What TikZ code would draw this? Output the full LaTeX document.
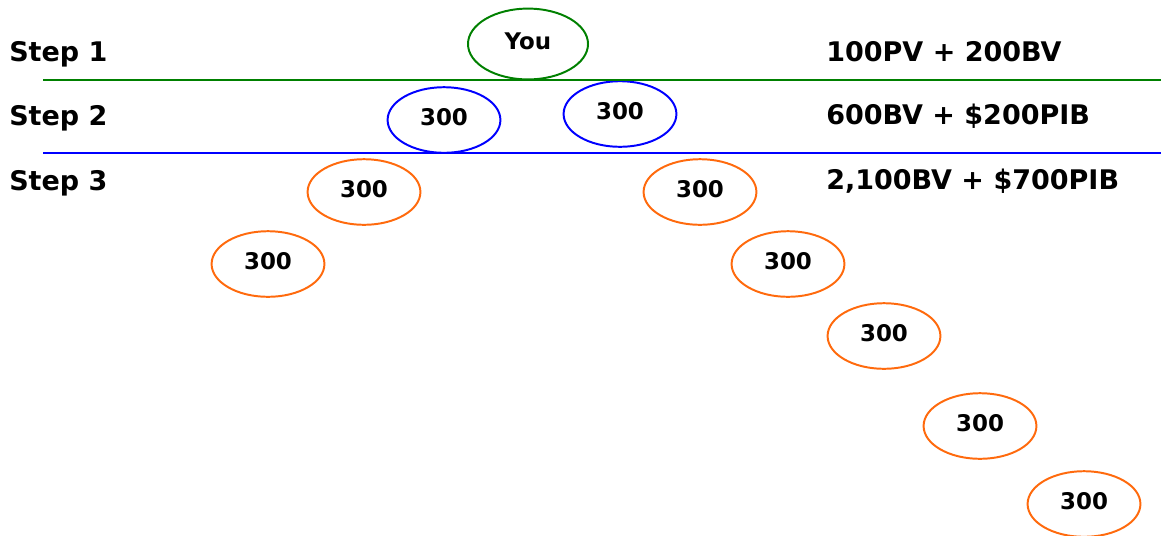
\documentclass[tikz,border=0pt]{standalone}
\usepackage{fontspec}
\setmainfont{DejaVu Sans}
\usepackage{xcolor}
\definecolor{stepgreen}{HTML}{008000}
\definecolor{stepblue}{HTML}{0000FF}
\definecolor{steporange}{HTML}{FF6A0D}
\usetikzlibrary{shapes.geometric}

\begin{document}
\begin{tikzpicture}[
    x=0.025cm, y=-0.025cm,
    member/.style={ellipse, draw, line width=1.4pt, inner sep=0pt, text depth=4pt,
                   minimum width=2.82cm, minimum height=1.64cm,
                   font=\fontsize{16.3}{19}\selectfont\bfseries},
    rule/.style={line width=1.5pt},
    lbl/.style={anchor=base west, inner sep=0pt,
                font=\fontsize{19.2}{22}\selectfont\bfseries},
  ]
  \useasboundingbox (0,0) rectangle (1161,535);

  % top of the tree
  \node[member, draw=stepgreen, minimum width=3cm, minimum height=1.77cm] (you) at (528,44) {You};

  % step 2 members
  \node[member, draw=stepblue] (lvltwoa) at (444,120) {300};
  \node[member, draw=stepblue] (lvltwob) at (620,114) {300};

  % step 3 members, two legs
  \foreach \n/\x/\y in {la/364/192, lb/268/264, ra/700/192, rb/788/264,
                        rc/884/336, rd/980/426, re/1084/504} {
    \node[member, draw=steporange] (lvl\n) at (\x,\y) {300};
  }

  % dividers between the steps
  \coordinate (gstart) at (43,80);
  \coordinate (gend) at (1161,80);
  \coordinate (bstart) at (43,153);
  \coordinate (bend) at (1161,153);
  \draw[rule, stepgreen] (gstart) -- (gend);
  \draw[rule, stepblue] (bstart) -- (bend);

  % step names
  \node[lbl] (stepone) at (9,61) {Step 1};
  \node[lbl] (steptwo) at (9,125) {Step 2};
  \node[lbl] (stepthree) at (9,190) {Step 3};

  % volume per step
  \node[lbl] (volone) at (826,61) {100PV + 200BV};
  \node[lbl] (voltwo) at (826,124.5) {600BV + \$200PIB};
  \node[lbl] (volthree) at (826,189) {2,100BV + \$700PIB};
\end{tikzpicture}
\end{document}
